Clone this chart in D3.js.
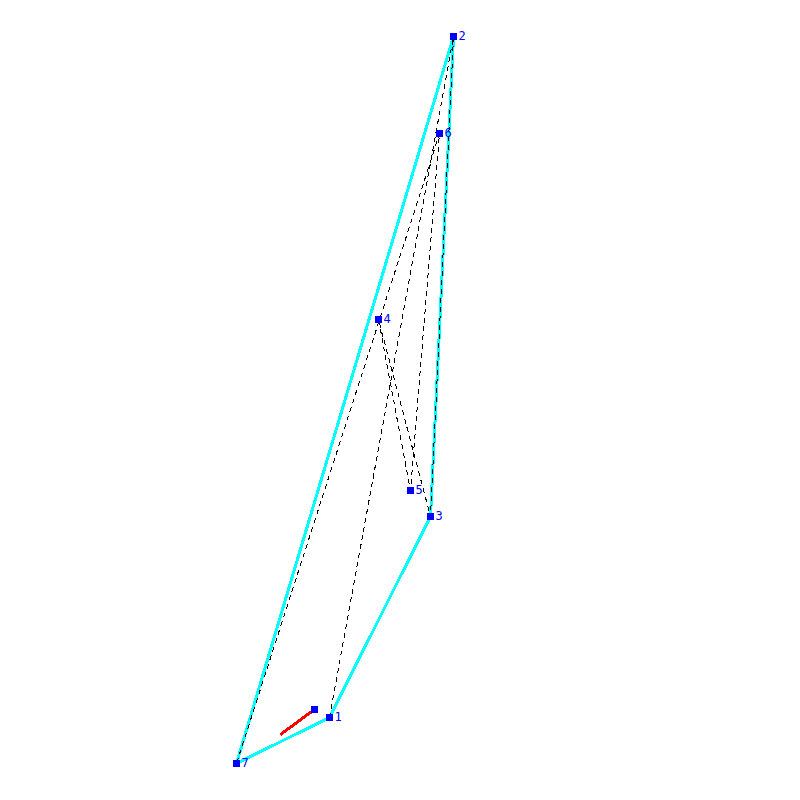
<!DOCTYPE html>
<html>
<head>
<meta charset="utf-8">
<script src="https://cdnjs.cloudflare.com/ajax/libs/d3/7.8.5/d3.min.js"></script>
<style>
html, body { margin: 0; padding: 0; background: #fff; }
svg { display: block; }
</style>
</head>
<body>
<svg id="plot"></svg>
<script>
// tour points (y counted upward from the bottom edge)
const labels = ['1', '2', '3', '4', '5', '6', '7'];
const xValues = [329.5, 453.5, 430.5, 378.5, 410.5, 439.5, 236.5];
const yValues = [82.5, 763.5, 283.5, 480.5, 309.5, 666.5, 36.5];
// hull goes through these labels
const hullOrder = ['1', '3', '2', '7', '1'];
// start point of the red segment and its other end
const startX = [314.5, 280.5];
const startY = [90.5, 65.5];

const width = 800;
const height = 800;

const svg = d3.select('#plot')
    .attr('width', width)
    .attr('height', height);

const x = d3.scaleLinear().domain([0, 800]).range([0, width]);
const y = d3.scaleLinear().domain([0, 800]).range([height, 0]);

const points = labels.map(function(d, i) {
    return {label: d, x: xValues[i], y: yValues[i]};
});
const byLabel = new Map(points.map(d => [d.label, d]));

const line = d3.line()
    .x(d => x(d.x))
    .y(d => y(d.y));

// hull
svg.append('path')
    .datum(hullOrder.map(d => byLabel.get(d)))
    .attr('d', line)
    .attr('fill', 'none')
    .attr('stroke', '#00ffff')
    .attr('stroke-width', 3)
    .attr('shape-rendering', 'crispEdges');

// dashed tour
svg.append('path')
    .datum(points)
    .attr('d', line)
    .attr('fill', 'none')
    .attr('stroke', '#000')
    .attr('stroke-width', 1)
    .attr('stroke-dasharray', '5,4')
    .attr('shape-rendering', 'crispEdges');

// red segment
svg.append('path')
    .datum(startX.map((d, i) => ({x: d, y: startY[i]})))
    .attr('d', line)
    .attr('fill', 'none')
    .attr('stroke', '#ff0000')
    .attr('stroke-width', 3)
    .attr('shape-rendering', 'crispEdges');

// squares
const squares = points.concat([{label: '', x: startX[0], y: startY[0]}]);
svg.selectAll('rect.node')
    .data(squares)
    .enter()
    .append('rect')
    .attr('class', 'node')
    .attr('x', d => x(d.x) - 3.5)
    .attr('y', d => y(d.y) - 3.5)
    .attr('width', 7)
    .attr('height', 7)
    .attr('fill', '#0000ff')
    .attr('shape-rendering', 'crispEdges');

svg.selectAll('text.label')
    .data(points)
    .enter()
    .append('text')
    .attr('class', 'label')
    .attr('x', d => x(d.x) + 5)
    .attr('y', d => y(d.y) + 3)
    .attr('fill', '#0000ff')
    .style('font-family', '"DejaVu Sans Mono", monospace')
    .style('font-size', '12px')
    .text(d => d.label);
</script>
</body>
</html>
